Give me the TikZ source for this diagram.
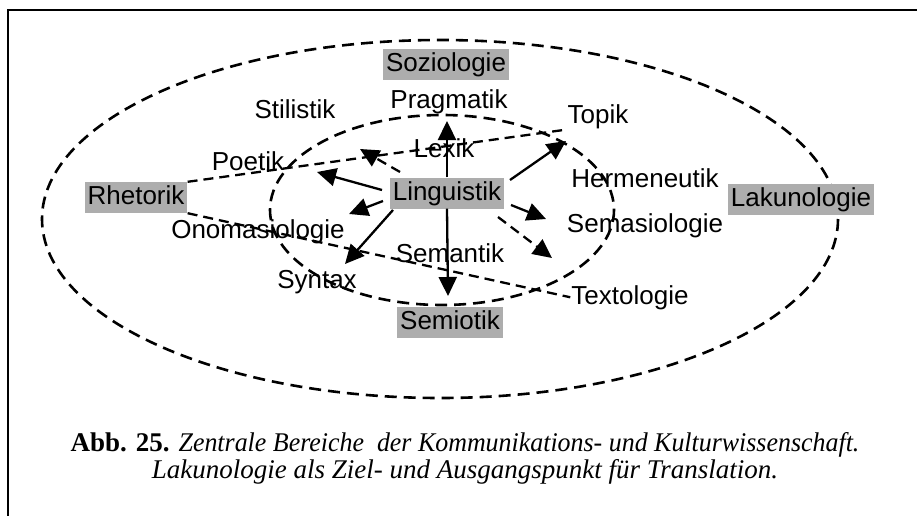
\documentclass[tikz,border=0pt]{standalone}
\usepackage{fontspec}
\setmainfont{Liberation Serif}
\setsansfont{Liberation Sans}
\usetikzlibrary{arrows.meta}

\tikzset{
  lbl/.style={font=\sffamily\fontsize{26}{26}\selectfont, inner sep=1pt, anchor=base},
  hl/.style={lbl, fill=black!32, inner xsep=3pt, inner ysep=2.5pt,
             text height=20pt, text depth=6pt},
  ring/.style={draw, line width=2.6pt, dash pattern=on 12pt off 7pt},
  link/.style={line width=2.3pt, dash pattern=on 10pt off 6pt},
  arr/.style={line width=2.3pt, -{Triangle[length=19pt,width=18pt]}},
  darr/.style={arr, dash pattern=on 10pt off 6pt},
  captext/.style={font=\fontsize{27}{27}\selectfont, inner sep=0pt, anchor=base}
}

\begin{document}
\begin{tikzpicture}[x=1pt,y=-1pt]
\useasboundingbox (0,0) rectangle (917,516);

% frame
\draw[line width=2.2pt] (917,10) -- (8,10) -- (8,516);

% the two regions
\draw[ring] (440,219) ellipse [x radius=398, y radius=179];
\draw[ring] (442,210) ellipse [x radius=172, y radius=95];

% labels
\node[hl]  (soz)    at (446,71.5) {Soziologie};
\node[lbl] (prag)   at (449,109) {Pragmatik};
\node[lbl] (stil)   at (295,118) {Stilistik};
\node[lbl] (topik)  at (598,123) {Topik};
\node[lbl] (lexik)  at (444,157) {Lexik};
\node[lbl] (poetik) at (248,170) {Poetik};
\node[lbl] (herm)   at (645,187) {Hermeneutik};
\node[hl]  (rhet)   at (136,204.5) {Rhetorik};
\node[hl]  (ling)   at (447,200) {Linguistik};
\node[hl]  (lak)    at (801,206) {Lakunologie};
\node[lbl] (onom)   at (258,238) {Onomasiologie};
\node[lbl] (sema)   at (645,232) {Semasiologie};
\node[lbl] (semant) at (450,262) {Semantik};
\node[lbl] (syntax) at (317,288) {Syntax};
\node[hl]  (semio)  at (450,329) {Semiotik};
\node[lbl] (textol) at (630,304) {Textologie};

% links from Rhetorik
\draw[link] (rhet.north east) -- (topik.south west);
\draw[link] (rhet.south east) -- (textol.west);

% arrow ends
\coordinate (tPrag) at (447,121);
\coordinate (tUL)   at (360,149);
\coordinate (tPoet) at (317,172);
\coordinate (tOnom) at (349,214);
\coordinate (tSyn)  at (345,264);
\coordinate (tSemi) at (448,296);
\coordinate (tTop)  at (566,141);
\coordinate (tSema) at (546,219);
\coordinate (tLR)   at (552,258);

% arrows out of Linguistik
\draw[arr]  (ling.north) -- (tPrag);
\draw[darr] ([shift={(-47,-21)}]ling.center) -- (tUL);
\draw[arr]  ([shift={(-65,-3)}]ling.center) -- (tPoet);
\draw[arr]  ([shift={(-64,8)}]ling.center) -- (tOnom);
\draw[arr]  ([shift={(-54,17)}]ling.center) -- (tSyn);
\draw[arr]  (ling.south) -- (tSemi);
\draw[arr]  ([shift={(63,-13)}]ling.center) -- (tTop);
\draw[arr]  ([shift={(64,12)}]ling.center) -- (tSema);
\draw[darr] ([shift={(51,24)}]ling.center) -- (tLR);

% caption
\node[captext] (cap1) at (465,451) {\textbf{Abb. 25.} \scalebox{0.96}[1]{\textit{Zentrale Bereiche\ \ der Kommunikations- und Kulturwissenschaft.}}};
\node[captext] (cap2) at (465,478) {\textit{Lakunologie als Ziel- und Ausgangspunkt für Translation.}};
\end{tikzpicture}
\end{document}
